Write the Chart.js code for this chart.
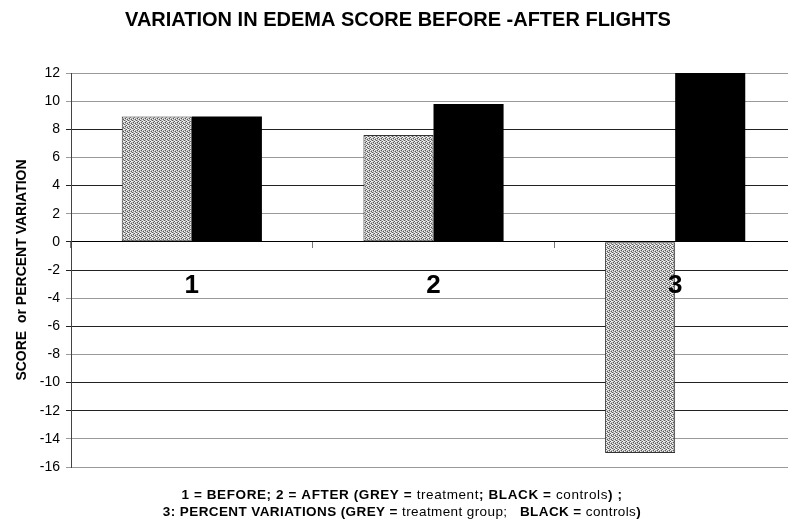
<!DOCTYPE html>
<html lang="en">
<head>
  <meta charset="UTF-8" />
  <title>Edema score before / after flights</title>
  <script src="https://cdn.jsdelivr.net/npm/chart.js"></script>
  <style>
    html, body {
      margin: 0;
      padding: 0;
      background: #fff;
      overflow: hidden;
    }
    #wrap {
      width: 800px;
      height: 525px;
    }
  </style>
</head>
<body>
  <div id="wrap"><canvas id="chart" width="800" height="525"></canvas></div>

  <script>
    const categories = ['1', '2', '3'];
    const greyValues = [8.9, 7.6, -15];   // treatment group
    const blackValues = [8.9, 9.8, 12];   // controls
    const yMin = -16, yMax = 12, yStep = 2;

    const chartTitle = 'VARIATION IN EDEMA SCORE BEFORE -AFTER FLIGHTS';
    const yTitle = 'SCORE  or PERCENT VARIATION';
    // footnote lines, split into [text, bold?] pieces
    const noteLine1 = [
      ['1 = BEFORE; 2 = AFTER (GREY = ', true],
      ['treatment', false],
      ['; BLACK = ', true],
      ['controls', false],
      [') ;', true]
    ];
    const noteLine2 = [
      ['3: PERCENT VARIATIONS (GREY = ', true],
      ['treatment group;', false],
      ['   BLACK = ', true],
      ['controls', false],
      [')', true]
    ];

    const FONT = '"Liberation Sans", Arial, Helvetica, sans-serif';

    // mottled grey fill like the scanned original (D dark, L light, W white)
    function ditherPattern() {
      const rows = ['DLWL', 'WLDW', 'LDWL', 'WLLD'];
      const col = { D: '#5a5a5a', L: '#b4b4b4', W: '#f4f4f4' };
      const c = document.createElement('canvas');
      c.width = 4; c.height = 4;
      const g = c.getContext('2d');
      rows.forEach((r, y) => {
        [...r].forEach((k, x) => {
          g.fillStyle = col[k];
          g.fillRect(x, y, 1, 1);
        });
      });
      return g.createPattern(c, 'repeat');
    }

    // some scanned grid lines came out darker than others
    const darkLines = [8, 4, 0, -2, -6, -10, -12];

    const footnote = {
      id: 'footnote',
      afterDraw(chart) {
        const ctx = chart.ctx;
        const cx = 402;
        const drawLine = (parts, y, spacing) => {
          ctx.letterSpacing = spacing;
          let total = 0;
          parts.forEach(([t, b]) => {
            ctx.font = (b ? 'bold ' : '') + '13.5px ' + FONT;
            total += ctx.measureText(t).width;
          });
          let x = cx - total / 2;
          ctx.textBaseline = 'middle';
          ctx.textAlign = 'left';
          ctx.fillStyle = '#000';
          parts.forEach(([t, b]) => {
            ctx.font = (b ? 'bold ' : '') + '13.5px ' + FONT;
            ctx.fillText(t, x, y);
            x += ctx.measureText(t).width;
          });
        };
        ctx.save();
        drawLine(noteLine1, 495, '0.6px');
        drawLine(noteLine2, 512, '0.4px');
        ctx.restore();
      }
    };

    const pattern = ditherPattern();

    new Chart(document.getElementById('chart'), {
      type: 'bar',
      data: {
        labels: categories,
        datasets: [
          {
            label: 'treatment',
            data: greyValues,
            backgroundColor: pattern,
            borderColor: '#333',
            borderWidth: 1,
            borderSkipped: false
          },
          {
            label: 'controls',
            data: blackValues,
            backgroundColor: '#000',
            borderColor: '#000',
            borderWidth: 0
          }
        ]
      },
      options: {
        responsive: false,
        animation: false,
        devicePixelRatio: 1,
        layout: { padding: { left: 0, right: 4, top: 0, bottom: 58 } },
        datasets: {
          bar: { categoryPercentage: 0.58, barPercentage: 1.0 }
        },
        plugins: {
          legend: { display: false },
          tooltip: { enabled: false },
          title: {
            display: true,
            text: chartTitle,
            color: '#000',
            font: { family: FONT, size: 20, weight: 'bold' },
            padding: { top: 8, bottom: 41 }
          }
        },
        scales: {
          x: {
            position: { y: 0 },
            offset: true,
            grid: {
              display: true,
              drawOnChartArea: false,
              drawTicks: true,
              tickLength: 6,
              offset: true,
              color: '#777'
            },
            border: { display: true, color: '#000', width: 1 },
            ticks: {
              z: 1,
              color: '#000',
              padding: 22,
              font: { family: FONT, size: 26, weight: 'bold' }
            }
          },
          y: {
            min: yMin,
            max: yMax,
            afterFit: s => { s.width = 71; },
            ticks: {
              stepSize: yStep,
              color: '#000',
              padding: 6,
              font: { family: FONT, size: 14 }
            },
            grid: {
              color: ctx => darkLines.includes(ctx.tick && ctx.tick.value) ? '#222' : '#9a9a9a',
              lineWidth: 1,
              tickLength: 5
            },
            border: { display: true, color: '#444', width: 1 },
            title: {
              display: true,
              text: yTitle,
              color: '#000',
              font: { family: FONT, size: 14, weight: 'bold' },
              padding: { top: 14, bottom: 0 }
            }
          }
        }
      },
      plugins: [footnote]
    });
  </script>
</body>
</html>
